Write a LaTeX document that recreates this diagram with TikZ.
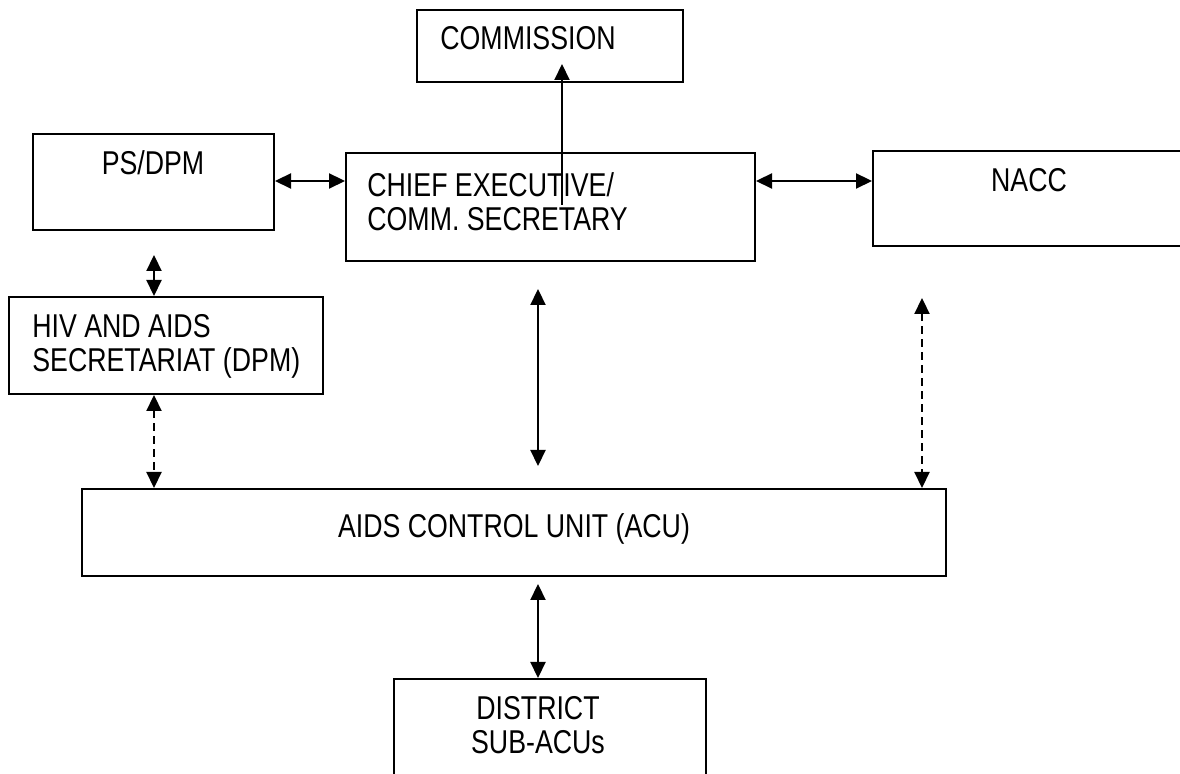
\documentclass[tikz,border=0pt]{standalone}
\usepackage{fontspec}
\setmainfont{Liberation Sans}[FakeStretch=0.81]
\usetikzlibrary{arrows.meta,fit}
\begin{document}
\begin{tikzpicture}[x=0.5pt,y=-0.5pt,
  box/.style={draw, line width=1pt, inner sep=0pt},
  lbl/.style={inner sep=0pt, font=\fontsize{16.5}{17}\selectfont},
  link/.style={line width=1.1pt, {Triangle[length=8pt,width=7.5pt]}-{Triangle[length=8pt,width=7.5pt]}},
  dlink/.style={link, dash pattern=on 4pt off 2.5pt},
]
\useasboundingbox (0,0) rectangle (1180,774);
% boxes
\node[box, fit={(417,10) (683,82)}] (comm) {};
\node[box, fit={(33,134) (274,230)}] (ps) {};
\node[box, fit={(346,153) (755,261)}] (chief) {};
\node[box, fit={(873,151) (1190,246)}] (nacc) {};
\node[box, fit={(9,297) (323,394)}] (hiv) {};
\node[box, fit={(82,489) (946,576)}] (acu) {};
\node[box, fit={(394,679) (706,790)}] (dist) {};
% texts (base = baseline of the last line)
\node[lbl, anchor=base west] (commt) at (440,50) {COMMISSION};
\node[lbl, anchor=base] (pst) at (153,175) {PS/DPM};
\node[lbl, anchor=base west, align=left] (chieft) at (367,231) {CHIEF EXECUTIVE/\\COMM. SECRETARY};
\node[lbl, anchor=base] (nacct) at (1029,192) {NACC};
\node[lbl, anchor=base west, align=left] (hivt) at (32,372) {HIV AND AIDS\\SECRETARIAT (DPM)};
\node[lbl, anchor=base] (acut) at (514,538) {AIDS CONTROL UNIT (ACU)};
\node[lbl, anchor=base, align=center] (distt) at (538,754) {DISTRICT\\SUB-ACUs};
% free ends
\coordinate (hy) at (0,181);
\coordinate (c1) at (562,205);
\coordinate (c2) at (562,64);
\coordinate (psb) at (154,255);
\coordinate (m1) at (538,289);
\coordinate (m2) at (538,466);
\coordinate (r1) at (922,298);
\coordinate (d1) at (538,584);
% connectors
\draw[line width=1pt, -{Triangle[length=8pt,width=7.5pt]}] (c1) -- (c2);
\draw[link] (ps.east |- hy) -- (chief.west |- hy);
\draw[link] (chief.east |- hy) -- (nacc.west |- hy);
\draw[link] (psb) -- (psb |- hiv.north);
\draw[dlink] (hiv.south -| psb) -- (psb |- acu.north);
\draw[link] (m1) -- (m2);
\draw[dlink] (r1) -- (r1 |- acu.north);
\draw[link] (d1) -- (d1 |- dist.north);
\end{tikzpicture}
\end{document}
